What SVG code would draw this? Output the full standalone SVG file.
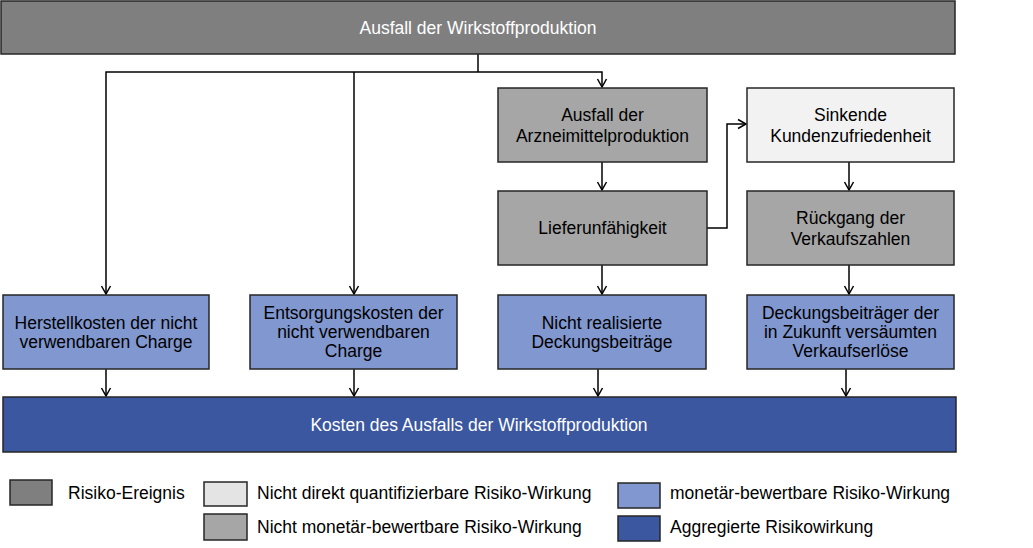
<svg xmlns="http://www.w3.org/2000/svg" width="1033" height="548" viewBox="0 0 1033 548">
<defs>
<marker id="arr" markerUnits="userSpaceOnUse" markerWidth="12" markerHeight="12" viewBox="-10 -6 12 12" refX="0" refY="0" orient="auto">
<path d="M-8,-4.5 L0,0 L-8,4.5" fill="none" stroke="#000" stroke-width="1.5"/>
</marker>
<style>
text{font-family:"Liberation Sans",Arial,sans-serif;font-size:17.5px;fill:#000;}
.c{text-anchor:middle;}
.w{fill:#fff;}
rect{stroke:#262626;stroke-width:1.5;}
.ev{fill:#7f7f7f;}
.nq{fill:#f2f2f2;}
.nm{fill:#a6a6a6;}
.mo{fill:#8097cf;}
.ag{fill:#3b57a0;}
.con path{fill:none;stroke:#000;stroke-width:1.5;}
</style>
</defs>
<rect width="1033" height="548" fill="#fff" style="stroke:none"/>

<g id="connectors" class="con">
<path d="M478,54 V72"/>
<path d="M478,72 H106 V294" marker-end="url(#arr)"/>
<path d="M354,72 V294" marker-end="url(#arr)"/>
<path d="M478,72 H602 V87" marker-end="url(#arr)"/>
<path d="M602,162 V190" marker-end="url(#arr)"/>
<path d="M602,265 V294" marker-end="url(#arr)"/>
<path d="M707,228 H727 V124 H746" marker-end="url(#arr)"/>
<path d="M849,162 V190" marker-end="url(#arr)"/>
<path d="M849,265 V294" marker-end="url(#arr)"/>
<path d="M106,369 V396" marker-end="url(#arr)"/>
<path d="M354,369 V396" marker-end="url(#arr)"/>
<path d="M598,369 V396" marker-end="url(#arr)"/>
<path d="M846,369 V396" marker-end="url(#arr)"/>
</g>

<g id="n-ausfall-wirkstoff">
<rect class="ev" x="1" y="1" width="954" height="53"/>
<text class="c w" x="478" y="33.5">Ausfall der Wirkstoffproduktion</text>
</g>
<g id="n-ausfall-arznei">
<rect class="nm" x="498" y="88" width="209" height="74"/>
<text class="c" x="602.5" y="120.5">Ausfall der</text>
<text class="c" x="602.5" y="141.5">Arzneimittelproduktion</text>
</g>
<g id="n-kundenzufriedenheit">
<rect class="nq" x="747" y="88" width="207" height="74"/>
<text class="c" x="850.5" y="120.5">Sinkende</text>
<text class="c" x="850.5" y="141.5">Kundenzufriedenheit</text>
</g>
<g id="n-lieferunfaehigkeit">
<rect class="nm" x="498" y="191" width="209" height="74"/>
<text class="c" x="602.5" y="234">Lieferunfähigkeit</text>
</g>
<g id="n-rueckgang">
<rect class="nm" x="747" y="191" width="207" height="74"/>
<text class="c" x="850.5" y="223.5">Rückgang der</text>
<text class="c" x="850.5" y="244.5">Verkaufszahlen</text>
</g>
<g id="n-herstellkosten">
<rect class="mo" x="3" y="295" width="206" height="74"/>
<text class="c" x="106" y="328.5">Herstellkosten der nicht</text>
<text class="c" x="106" y="347.5">verwendbaren Charge</text>
</g>
<g id="n-entsorgungskosten">
<rect class="mo" x="250" y="295" width="207" height="74"/>
<text class="c" x="353.5" y="318.5">Entsorgungskosten der</text>
<text class="c" x="353.5" y="337.5">nicht verwendbaren</text>
<text class="c" x="353.5" y="356.5">Charge</text>
</g>
<g id="n-deckungsbeitraege">
<rect class="mo" x="498" y="295" width="208" height="74"/>
<text class="c" x="602" y="328.5">Nicht realisierte</text>
<text class="c" x="602" y="347.5">Deckungsbeiträge</text>
</g>
<g id="n-verkaufserloese">
<rect class="mo" x="747" y="295" width="207" height="74"/>
<text class="c" x="850.5" y="318.5">Deckungsbeiträger der</text>
<text class="c" x="850.5" y="337.5">in Zukunft versäumten</text>
<text class="c" x="850.5" y="356.5">Verkaufserlöse</text>
</g>
<g id="n-kosten">
<rect class="ag" x="3" y="397" width="953" height="55"/>
<text class="c w" x="479" y="431">Kosten des Ausfalls der Wirkstoffproduktion</text>
</g>

<g id="legend">
<rect class="ev" x="10" y="480" width="42" height="25"/>
<text x="68" y="499">Risiko-Ereignis</text>
<rect class="nq" x="204" y="482" width="43" height="24" style="fill:#e4e4e4"/>
<text x="257" y="499">Nicht direkt quantifizierbare Risiko-Wirkung</text>
<rect class="nm" x="204" y="514" width="43" height="26"/>
<text x="257" y="533">Nicht monetär-bewertbare Risiko-Wirkung</text>
<rect class="mo" x="618" y="483" width="42" height="25"/>
<text x="670" y="499">monetär-bewertbare Risiko-Wirkung</text>
<rect class="ag" x="618" y="516" width="42" height="25"/>
<text x="670" y="533">Aggregierte Risikowirkung</text>
</g>
</svg>
